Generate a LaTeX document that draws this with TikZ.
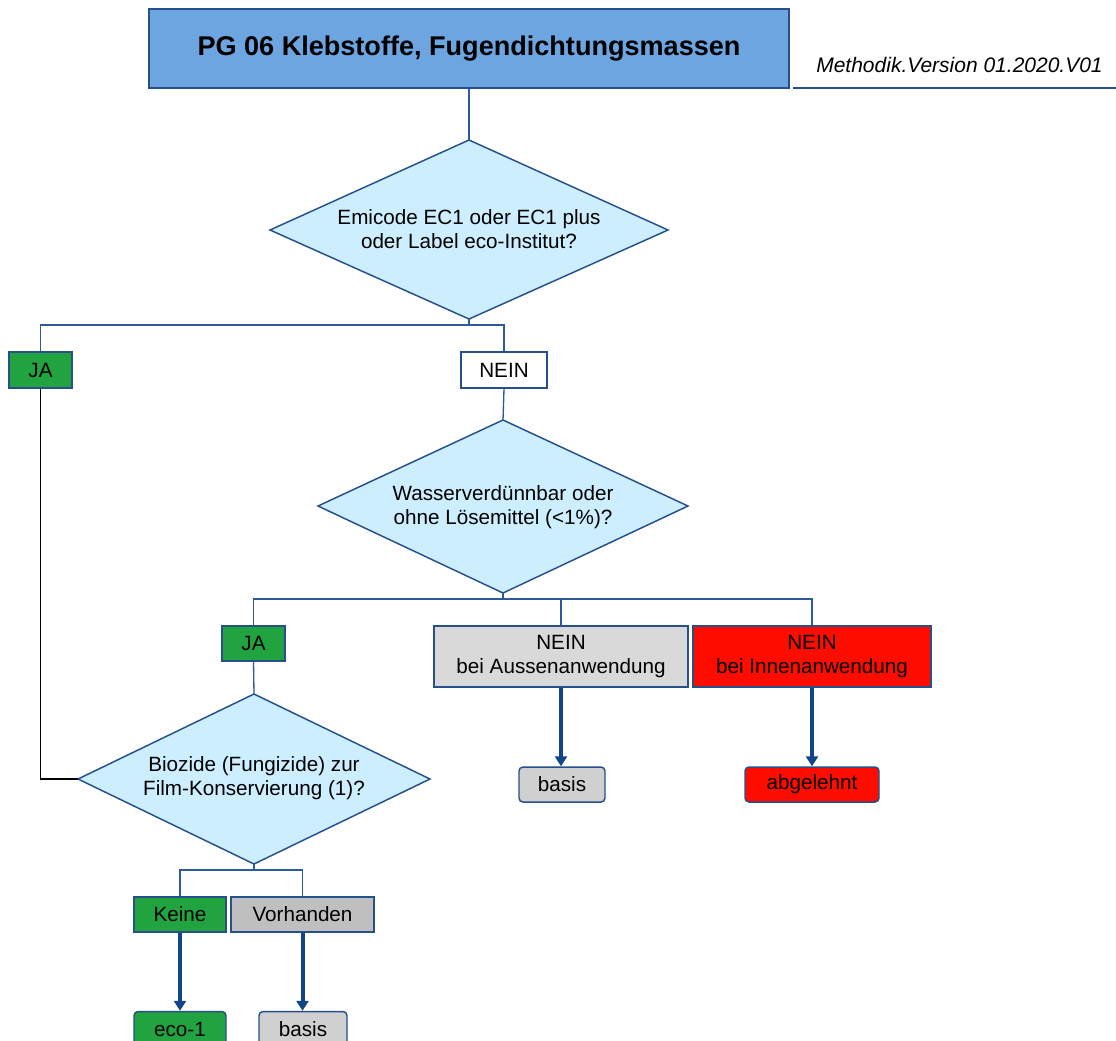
\documentclass[tikz,border=0pt]{standalone}
\usepackage{fontspec}
\setmainfont{Liberation Sans}
\usetikzlibrary{arrows.meta}
\definecolor{bordcol}{RGB}{38,80,140}
\definecolor{linecol}{RGB}{45,90,155}
\definecolor{arrcol}{RGB}{18,68,138}
\definecolor{titlefill}{RGB}{108,165,224}
\definecolor{diafill}{RGB}{204,238,255}
\definecolor{okgreen}{RGB}{33,163,63}
\definecolor{nored}{RGB}{255,12,0}
\definecolor{greyA}{RGB}{217,217,217}
\definecolor{greyB}{RGB}{191,191,191}
\definecolor{greyC}{RGB}{208,208,208}
\begin{document}
\begin{tikzpicture}[x=0.75pt,y=-0.75pt,
  sz/.style 2 args={minimum width=#1*0.75pt, minimum height=#2*0.75pt},
  box/.style={draw=bordcol, line width=1.1pt, inner sep=0pt, font=\fontsize{15.5}{18}\selectfont, align=center},
  result/.style={box, rounded corners=3pt},
  dia/.style={draw=bordcol, fill=diafill, line width=1.1pt, line join=miter},
  conn/.style={draw=linecol, line width=1pt},
  arr/.style={draw=arrcol, line width=3pt, -{Triangle[length=7.5pt,width=9pt]}},
  lbl/.style={font=\fontsize{15.5}{18}\selectfont, align=center, inner sep=0pt}
]
\useasboundingbox (0,0) rectangle (1116,1040);
\clip (0,0) rectangle (1116,1040);

% title
\node[box, fill=titlefill, sz={640}{79}, font=\bfseries\fontsize{20.3}{24}\selectfont] (title) at (469,48.5) {PG 06 Klebstoffe, Fugendichtungsmassen};
\node[font=\itshape\fontsize{15.75}{18}\selectfont, inner sep=0pt] (version) at (959.5,65) {Methodik.Version 01.2020.V01};
\draw[draw=bordcol, line width=1.1pt] (793,88) coordinate (vl1) -- (1116,88) coordinate (vl2);

% diamond 1
\draw[dia] (469,140) coordinate (d1t) -- (668,230) coordinate (d1r) -- (469,319) coordinate (d1b) -- (270,230) coordinate (d1l) -- cycle;
\node[lbl] (d1) at (469,229) {Emicode EC1 oder EC1 plus\\oder Label eco-Institut?};

\node[box, fill=okgreen, sz={63}{36}] (ja1) at (40.5,370) {JA};
\node[box, fill=white, sz={86}{36}] (nein1) at (504,370) {NEIN};

% diamond 2
\draw[dia] (503,420) coordinate (d2t) -- (688,506) coordinate (d2r) -- (503,593) coordinate (d2b) -- (318,506) coordinate (d2l) -- cycle;
\node[lbl] (d2) at (503,507) {Wasserverdünnbar oder\\ohne Lösemittel (<1\%)?};

\node[box, fill=okgreen, sz={63}{35}] (ja2) at (253.5,643.5) {JA};
\node[box, fill=greyA, sz={254}{61}] (aussen) at (561,656.5) {NEIN\\bei Aussenanwendung};
\node[box, fill=nored, sz={238}{61}] (innen) at (812,656.5) {NEIN\\bei Innenanwendung};

\node[result, fill=greyC, sz={86}{35}] (basisA) at (562,784.5) {basis};
\node[result, fill=nored, sz={134}{35}] (abgel) at (812,784.5) {abgelehnt};

% diamond 3
\draw[dia] (254,694) coordinate (d3t) -- (430,779) coordinate (d3r) -- (254,864) coordinate (d3b) -- (78,779) coordinate (d3l) -- cycle;
\node[lbl] (d3) at (254,778) {Biozide (Fungizide) zur\\Film-Konservierung (1)?};

\node[box, fill=okgreen, sz={92}{35}] (keine) at (180,914.5) {Keine};
\node[box, fill=greyB, sz={143}{35}] (vorh) at (302.5,914.5) {Vorhanden};

\node[result, fill=okgreen, sz={92}{35}] (eco) at (180,1029) {eco-1};
\node[result, fill=greyC, sz={88}{35}] (basisB) at (303,1029) {basis};

% connectors
\draw[conn] (title.south) -- (d1t);
\draw[conn] (d1b) -- ++(0,6) coordinate (h1);
\draw[conn] (ja1.north) |- (h1) -| (nein1.north);
\draw[black, line width=1pt] (ja1.south) |- (d3l);
\draw[conn] (nein1.south) -- (d2t);
\draw[conn] (d2b) -- ++(0,6) coordinate (h2);
\draw[conn] (ja2.north) |- (h2) -| (innen.north);
\draw[conn] (aussen.north) -- (aussen.north |- h2);
\draw[conn] (ja2.south) -- (d3t);
\draw[conn] (d3b) -- ++(0,6) coordinate (h3);
\draw[conn] (keine.north) |- (h3) -| (vorh.north);

\draw[arr] (aussen.south) -- (aussen.south |- basisA.north);
\draw[arr] (innen.south) -- (abgel.north);
\draw[arr] (keine.south) -- (eco.north);
\draw[arr] (vorh.south) -- (vorh.south |- basisB.north);
\end{tikzpicture}
\end{document}
